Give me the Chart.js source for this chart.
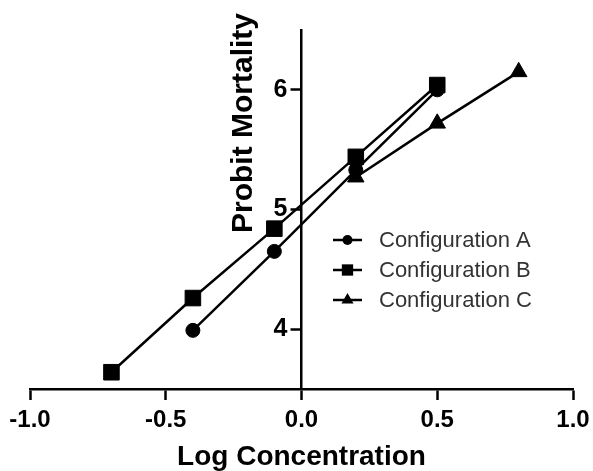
<!DOCTYPE html>
<html>
<head>
<meta charset="utf-8">
<script src="https://cdn.jsdelivr.net/npm/chart.js@4.4.0/dist/chart.umd.min.js"></script>
<style>
  html, body { margin: 0; padding: 0; background: #fff; }
  #wrap { width: 593px; height: 471px; }
</style>
</head>
<body>
<div id="wrap"><canvas id="probitChart"></canvas></div>
<script>
// values
const seriesNames = ['Configuration A', 'Configuration B', 'Configuration C'];
const logConcA = [-0.4, -0.1, 0.2, 0.5];
const probitA = [3.99, 4.65, 5.33, 6.0];
const logConcB = [-0.7, -0.4, -0.1, 0.2, 0.5];
const probitB = [3.64, 4.26, 4.84, 5.44, 6.04];
const logConcC = [0.2, 0.5, 0.8];
const probitC = [5.27, 5.72, 6.15];
const xTicks = [-1.0, -0.5, 0.0, 0.5, 1.0];
const yTicks = [4, 5, 6];

const FONT = "'Liberation Sans', Arial, Helvetica, sans-serif";
const Y_TITLE_TOP = 13;   // title of the y axis sticks out above the plot

function toPoints(xs, ys) {
    return xs.map((x, i) => ({ x: x, y: ys[i] }));
}

// one marker shape, for the legend
function drawMarker(ctx, style, r, x, y) {
    ctx.beginPath();
    if (style === 'circle') {
        ctx.arc(x, y, r, 0, Math.PI * 2);
    } else if (style === 'rect') {
        const s = r * Math.SQRT1_2;
        ctx.rect(x - s, y - s, 2 * s, 2 * s);
    } else {
        ctx.moveTo(x, y - r);
        ctx.lineTo(x + r * 0.866, y + r * 0.5);
        ctx.lineTo(x - r * 0.866, y + r * 0.5);
        ctx.closePath();
    }
    ctx.fill();
}

// legend with a line through each marker, like the original
const lineLegend = {
    id: 'lineLegend',
    afterDatasetsDraw(chart) {
        const ctx = chart.ctx;
        const x0 = 333, x1 = 362, textX = 379;
        const rows = [240, 270, 300];
        chart.data.datasets.forEach((ds, i) => {
            const y = rows[i];
            ctx.save();
            ctx.strokeStyle = '#000';
            ctx.fillStyle = '#000';
            ctx.lineWidth = 2.5;
            ctx.beginPath();
            ctx.moveTo(x0, y);
            ctx.lineTo(x1, y);
            ctx.stroke();
            drawMarker(ctx, ds.pointStyle, ds.legendRadius, (x0 + x1) / 2, y);
            ctx.fillStyle = '#333';
            ctx.font = '22px ' + FONT;
            ctx.textBaseline = 'middle';
            ctx.fillText(ds.label, textX, y + 1);
            ctx.restore();
        });
    }
};

// the y axis crosses the x axis at 0: it takes no room in the layout,
// then gets moved onto x = 0 once the layout is done
const crossingAxis = {
    id: 'crossingAxis',
    afterLayout(chart) {
        const y = chart.scales.y;
        const px = chart.scales.x.getPixelForValue(0);
        y.right = px;
        y.left = px - y._fullWidth;
        if (!y._wrappedTitle) {
            const drawTitle = y.drawTitle;
            y.drawTitle = function () {
                const top = this.top;
                this.top = Y_TITLE_TOP;
                drawTitle.call(this);
                this.top = top;
            };
            y._wrappedTitle = true;
        }
    }
};

const ctx = document.getElementById('probitChart').getContext('2d');

new Chart(ctx, {
    type: 'line',
    data: {
        datasets: [
            {
                label: seriesNames[0],
                data: toPoints(logConcA, probitA),
                pointStyle: 'circle',
                pointRadius: 7,
                legendRadius: 5,
                order: 1
            },
            {
                label: seriesNames[1],
                data: toPoints(logConcB, probitB),
                pointStyle: 'rect',
                pointRadius: 11,
                legendRadius: 8,
                order: 0
            },
            {
                label: seriesNames[2],
                data: toPoints(logConcC, probitC),
                pointStyle: 'triangle',
                pointRadius: 9.5,
                legendRadius: 7,
                order: 2
            }
        ].map(ds => Object.assign({
            borderColor: '#000',
            backgroundColor: '#000',
            pointBackgroundColor: '#000',
            pointBorderColor: '#000',
            pointBorderWidth: 1,
            pointHoverRadius: ds.pointRadius,
            borderWidth: 2.5,
            fill: false,
            tension: 0,
            clip: false
        }, ds))
    },
    options: {
        responsive: true,
        maintainAspectRatio: false,
        animation: false,
        layout: { padding: { top: 30, left: 30, right: 20, bottom: 0 } },
        plugins: {
            legend: { display: false },
            tooltip: { enabled: false }
        },
        scales: {
            x: {
                type: 'linear',
                position: 'bottom',
                min: -1,
                max: 1,
                afterBuildTicks: axis => { axis.ticks = xTicks.map(v => ({ value: v })); },
                // "1.0" may run up to the right edge, as in the original
                afterFit: axis => { axis.paddingRight = 0; },
                border: { display: true, color: '#000', width: 2.5 },
                grid: {
                    drawOnChartArea: false,
                    drawTicks: true,
                    tickLength: 11,
                    tickWidth: 2.5,
                    tickColor: '#000'
                },
                ticks: {
                    color: '#000',
                    padding: 8,
                    maxRotation: 0,
                    autoSkip: false,
                    font: { family: FONT, size: 24, weight: 'bold', lineHeight: 1 },
                    callback: v => v.toFixed(1)
                },
                title: {
                    display: true,
                    text: 'Log Concentration',
                    color: '#000',
                    font: { family: FONT, size: 28, weight: 'bold', lineHeight: 1 },
                    padding: { top: 3, bottom: 0 }
                }
            },
            y: {
                type: 'linear',
                position: 'left',
                min: 3.5,
                max: 6.5,
                afterBuildTicks: axis => { axis.ticks = yTicks.map(v => ({ value: v })); },
                afterFit: axis => { axis._fullWidth = axis.width; axis.width = 0; },
                border: { display: true, color: '#000', width: 2.5 },
                grid: {
                    drawOnChartArea: false,
                    drawTicks: true,
                    tickLength: 11,
                    tickWidth: 2.5,
                    tickColor: '#000'
                },
                ticks: {
                    color: '#000',
                    padding: 3,
                    font: { family: FONT, size: 25, weight: 'bold' }
                },
                title: {
                    display: true,
                    text: 'Probit Mortality',
                    align: 'end',
                    color: '#000',
                    font: { family: FONT, size: 30, weight: 'bold', lineHeight: 1.1 },
                    padding: { top: 0, bottom: 10 }
                }
            }
        }
    },
    plugins: [crossingAxis, lineLegend]
});
</script>
</body>
</html>
